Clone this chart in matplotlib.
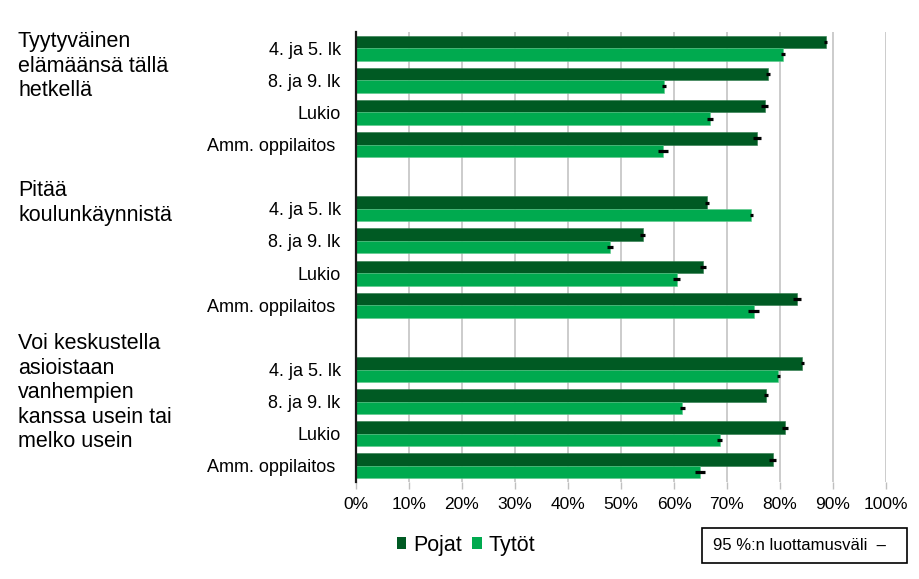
import matplotlib
matplotlib.use("Agg")
import matplotlib.pyplot as plt
from matplotlib.patches import Rectangle, Patch
import numpy as np

plt.rcParams['font.family'] = ['Liberation Sans', 'DejaVu Sans']

groups = ["Tyytyväinen\nelämäänsä tällä\nhetkellä",
          "Pitää\nkoulunkäynnistä",
          "Voi keskustella\nasioistaan\nvanhempien\nkanssa usein tai\nmelko usein"]
schools = ["4. ja 5. lk", "8. ja 9. lk", "Lukio", "Amm. oppilaitos "]

pojat = [88.6, 77.8, 77.1, 75.6,
         66.2, 54.1, 65.5, 83.2,
         84.2, 77.4, 80.9, 78.6]
tytot = [80.6, 58.1, 66.8, 57.9,
         74.6, 47.9, 60.5, 75.0,
         79.7, 61.6, 68.6, 64.9]
pojat_err = [0.3, 0.35, 0.6, 0.75,
             0.4, 0.5, 0.6, 0.75,
             0.3, 0.4, 0.55, 0.7]
tytot_err = [0.4, 0.4, 0.55, 1.0,
             0.35, 0.5, 0.6, 0.95,
             0.35, 0.5, 0.55, 0.9]

xticks = [0, 10, 20, 30, 40, 50, 60, 70, 80, 90, 100]
xticklabels = [f"{v}%" for v in xticks]

c_dark = "#005A23"
c_light = "#00AA4F"

fig = plt.figure(figsize=(9.2, 5.79), dpi=100)
W, H = 920, 579
ax = fig.add_axes([356 / W, 1 - 482 / H, 530 / W, 450 / H])

# slot positions: 4 per group plus a gap slot between groups
pos = []
for g in range(3):
    for s in range(4):
        pos.append(g * 5 + s)
pos = np.array(pos, dtype=float)
bh = 0.39

ax.barh(pos - bh / 2, pojat, height=bh, color=c_dark, edgecolor="#2E7A4A", linewidth=0.4, label="Pojat", zorder=2)
ax.barh(pos + bh / 2, tytot, height=bh, color=c_light, edgecolor="#5CC98A", linewidth=0.4, label="Tytöt", zorder=2)
ax.errorbar(pojat, pos - bh / 2, xerr=pojat_err, fmt="none", ecolor="black", elinewidth=2.3, capsize=0, zorder=3)
ax.errorbar(tytot, pos + bh / 2, xerr=tytot_err, fmt="none", ecolor="black", elinewidth=2.3, capsize=0, zorder=3)

ax.set_xlim(0, 100)
ax.set_ylim(13.5, -0.5)
ax.set_xticks(xticks)
ax.set_xticklabels(xticklabels, fontsize=12.5)
ax.set_yticks(pos)
ax.set_yticklabels(schools * 3, fontsize=13)
ax.tick_params(axis="y", length=0, pad=11)
ax.tick_params(axis="x", length=5, color="#BFBFBF", width=1, pad=6)
ax.grid(axis="x", color="#BFBFBF", linewidth=1.1, zorder=0)
ax.set_axisbelow(True)
for sp in ["top", "right", "bottom"]:
    ax.spines[sp].set_visible(False)
ax.spines["left"].set_color("#1a1a1a")
ax.spines["left"].set_linewidth(1.6)
ax.spines["left"].set_zorder(4)

# group labels
group_tops = [31, 180, 333]
for lab, t in zip(groups, group_tops):
    fig.text(18 / W, 1 - t / H, lab, ha="left", va="top", fontsize=15.5, linespacing=1.22)

# legend
handles = [Patch(facecolor=c_dark), Patch(facecolor=c_light)]
fig.legend(handles, ["Pojat", "Tytöt"], loc="center", bbox_to_anchor=(466 / W, 1 - 545 / H),
           ncol=2, frameon=False, fontsize=15.5, handlelength=0.45, handleheight=0.45,
           handletextpad=0.3, columnspacing=0.5, borderpad=0)

# confidence interval box
fig.patches.append(Rectangle((702 / W, 1 - 563 / H), 205 / W, 35 / H, transform=fig.transFigure,
                             facecolor="white", edgecolor="black", linewidth=1.2))
fig.text(713 / W, 1 - 545 / H, "95 %:n luottamusväli  –", ha="left", va="center", fontsize=12)

fig.savefig("out.png", dpi=100)
